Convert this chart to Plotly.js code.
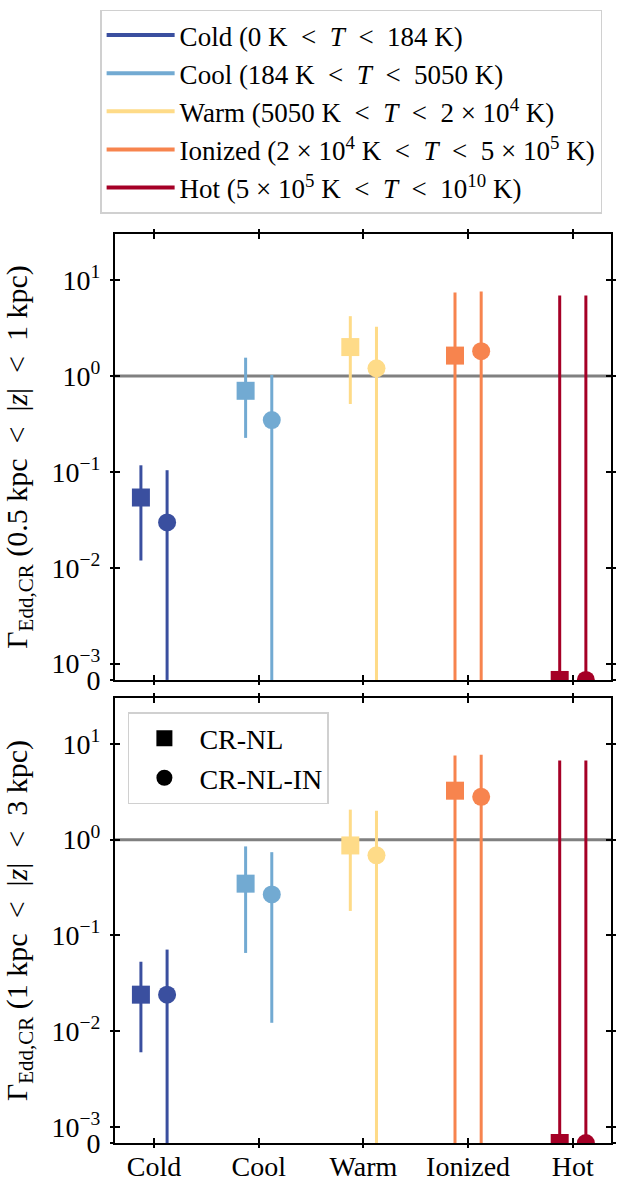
<!DOCTYPE html>
<html>
<head>
<meta charset="utf-8">
<script src="https://cdn.plot.ly/plotly-3.0.1.min.js"></script>
<style>html,body{margin:0;padding:0;background:#fff;}#chart{width:621px;height:1183px;}</style>
</head>
<body>
<div id="chart"></div>
<script>
// ---------------- data ----------------
const categories = ['Cold', 'Cool', 'Warm', 'Ionized', 'Hot'];
const phaseLabels = [
  'Cold (0 K\u2002&lt;\u2002<i>T</i>\u2002&lt;\u2002184 K)',
  'Cool (184 K\u2002&lt;\u2002<i>T</i>\u2002&lt;\u20025050 K)',
  'Warm (5050 K\u2002&lt;\u2002<i>T</i>\u2002&lt;\u20022 × 10<sup>4</sup> K)',
  'Ionized (2 × 10<sup>4</sup> K\u2002&lt;\u2002<i>T</i>\u2002&lt;\u20025 × 10<sup>5</sup> K)',
  'Hot (5 × 10<sup>5</sup> K\u2002&lt;\u2002<i>T</i>\u2002&lt;\u200210<sup>10</sup> K)'
];
const phaseColors = ['#3a4f9f', '#72aad2', '#fedb88', '#f7844e', '#a50026'];
const simNames = ['CR-NL', 'CR-NL-IN'];
const simSymbols = ['square', 'circle'];

// panel 1 : 0.5 kpc < |z| < 1 kpc
const nlMidTop = [0.054, 0.70, 2.0, 1.63, 0];
const nlLoTop  = [0.0119, 0.226, 0.51, 0, 0];
const nlHiTop  = [0.117, 1.55, 4.2, 7.4, 6.9];
const inMidTop = [0.0297, 0.347, 1.2, 1.81, 0];
const inLoTop  = [0, 0, 0, 0, 0];
const inHiTop  = [0.104, 1.02, 3.25, 7.6, 6.9];

// panel 2 : 1 kpc < |z| < 3 kpc
const nlMidBot = [0.024, 0.347, 0.87, 3.25, 0];
const nlLoBot  = [0.006, 0.0655, 0.18, 0, 0];
const nlHiBot  = [0.053, 0.85, 2.06, 7.6, 6.7];
const inMidBot = [0.024, 0.268, 0.686, 2.8, 0];
const inLoBot  = [0, 0.0122, 0, 0, 0];
const inHiBot  = [0.071, 0.74, 2.0, 7.7, 6.7];

const refLevel = 1;
const yTickVals = [0, 0.001, 0.01, 0.1, 1, 10];
const yTickText = ['0', '10<sup>−3</sup>', '10<sup>−2</sup>', '10<sup>−1</sup>', '10<sup>0</sup>', '10<sup>1</sup>'];
const yTitles = [
  'Γ<sub>Edd,CR</sub> (0.5 kpc\u2002&lt;\u2002|<i>z</i>|\u2002&lt;\u20021 kpc)',
  'Γ<sub>Edd,CR</sub> (1 kpc\u2002&lt;\u2002|<i>z</i>|\u2002&lt;\u20023 kpc)'
];

// ---------------- drawing ----------------
const FONT = 'Liberation Serif, Times New Roman, serif';
const FS = 28;
// symlog-like axis: the linear piece 0..1e-3 is compressed; "0" sits at the axis floor
const Y_FLOOR = Math.pow(10, -3.17);
const Y_TOP = Math.pow(10, 1.48);
const toPlot = v => (v > 0 ? v : Y_FLOOR);
const dodge = [-0.125, 0.125];

const panels = [
  {xa: 'x', ya: 'y', mid: [nlMidTop, inMidTop], lo: [nlLoTop, inLoTop], hi: [nlHiTop, inHiTop]},
  {xa: 'x2', ya: 'y2', mid: [nlMidBot, inMidBot], lo: [nlLoBot, inLoBot], hi: [nlHiBot, inHiBot]}
];

const traces = [];
panels.forEach(p => {
  for (let s = 0; s < 2; s++) {
    categories.forEach((c, i) => {
      const y = toPlot(p.mid[s][i]);
      traces.push({
        x: [i + dodge[s]], y: [y],
        xaxis: p.xa, yaxis: p.ya,
        mode: 'markers', type: 'scatter',
        marker: {symbol: simSymbols[s], size: 18, color: phaseColors[i], line: {width: 0}},
        error_y: {type: 'data', symmetric: false,
          array: [toPlot(p.hi[s][i]) - y], arrayminus: [y - toPlot(p.lo[s][i])],
          color: phaseColors[i], thickness: 3, width: 0},
        showlegend: false, hoverinfo: 'skip', cliponaxis: true
      });
    });
  }
});

// legend-only entries
categories.forEach((c, i) => {
  traces.push({x: [null], y: [null], mode: 'lines', type: 'scatter',
    line: {color: phaseColors[i], width: 4}, name: phaseLabels[i],
    legend: 'legend', legendgroup: 'ph' + i, showlegend: true, hoverinfo: 'skip'});
});
simNames.forEach((n, s) => {
  traces.push({x: [null], y: [null], mode: 'markers', type: 'scatter',
    marker: {symbol: simSymbols[s], size: 18, color: 'black'}, name: n,
    legend: 'legend2', showlegend: true, hoverinfo: 'skip'});
});
// carriers for the outward half of the in-out ticks
traces.push({x: [], y: [], xaxis: 'x3', yaxis: 'y3', type: 'scatter', mode: 'markers', showlegend: false, hoverinfo: 'skip'});
traces.push({x: [], y: [], xaxis: 'x4', yaxis: 'y4', type: 'scatter', mode: 'markers', showlegend: false, hoverinfo: 'skip'});

const xRange = [-0.3725, 4.365];
const yRange = [Math.log10(Y_FLOOR), Math.log10(Y_TOP)];
const yTV = yTickVals.map(toPlot);

function xAxis(showLabels, anchor) {
  return {range: xRange, anchor: anchor, tickmode: 'array', tickvals: categories.map((c, i) => i),
    ticktext: categories, showticklabels: showLabels, ticks: 'inside', ticklen: 5, tickwidth: 2,
    tickcolor: 'black', showline: true, linecolor: 'black', linewidth: 2, mirror: 'ticks',
    ticklabelstandoff: -3,
    showgrid: false, zeroline: false, tickfont: {family: FONT, size: FS, color: 'black'}};
}
function yAxis(domain, anchor, title) {
  return {type: 'log', domain: domain, anchor: anchor, range: yRange, tickmode: 'array',
    tickvals: yTV, ticktext: yTickText, ticks: 'inside', ticklen: 5, tickwidth: 2, tickcolor: 'black',
    showline: true, linecolor: 'black', linewidth: 2, mirror: 'ticks', showgrid: false, zeroline: false,
    ticklabelstandoff: 7,
    tickfont: {family: FONT, size: FS, color: 'black'},
    title: {text: title, font: {family: FONT, size: 30, color: 'black'}, standoff: 20}};
}
function xOver(over, anchor) {
  return {overlaying: over, anchor: anchor, range: xRange, tickmode: 'array',
    tickvals: categories.map((c, i) => i), showticklabels: false, ticks: 'outside', ticklen: 4,
    tickwidth: 2, tickcolor: 'black', mirror: 'ticks', showline: false, showgrid: false, zeroline: false};
}
function yOver(over, anchor) {
  return {overlaying: over, anchor: anchor, type: 'log', range: yRange, tickmode: 'array',
    tickvals: yTV, showticklabels: false, ticks: 'outside', ticklen: 4, tickwidth: 2, tickcolor: 'black',
    mirror: 'ticks', showline: false, showgrid: false, zeroline: false};
}

const topDom = [0.5094, 1];
const botDom = [0, 0.4895];

const layout = {
  width: 621, height: 1183,
  margin: {l: 115, r: 10, t: 234, b: 40},
  paper_bgcolor: 'white', plot_bgcolor: 'white',
  font: {family: FONT, size: FS, color: 'black'},
  xaxis: xAxis(false, 'y'),
  yaxis: yAxis(topDom, 'x', yTitles[0]),
  xaxis2: xAxis(true, 'y2'),
  yaxis2: yAxis(botDom, 'x2', yTitles[1]),
  xaxis3: xOver('x', 'y3'),
  yaxis3: yOver('y', 'x3'),
  xaxis4: xOver('x2', 'y4'),
  yaxis4: yOver('y2', 'x4'),
  shapes: [
    {type: 'line', xref: 'x domain', yref: 'y', x0: 0, x1: 1, y0: refLevel, y1: refLevel,
      line: {color: '#808080', width: 3}, layer: 'below'},
    {type: 'line', xref: 'x2 domain', yref: 'y2', x0: 0, x1: 1, y0: refLevel, y1: refLevel,
      line: {color: '#808080', width: 3}, layer: 'below'}
  ],
  legend: {x: -0.03, y: 1.0225, xanchor: 'left', yanchor: 'bottom', bgcolor: 'white',
    bordercolor: '#d0d0d0', borderwidth: 1.5, traceorder: 'grouped', tracegroupgap: 0,
    itemwidth: 68, font: {family: FONT, size: 27, color: 'black'}},
  legend2: {x: 0.026, y: 0.474, xanchor: 'left', yanchor: 'top', bgcolor: 'white',
    bordercolor: '#d0d0d0', borderwidth: 1.5, itemwidth: 60,
    font: {family: FONT, size: FS, color: 'black'}},
  showlegend: true
};

Plotly.newPlot('chart', traces, layout, {staticPlot: true, displayModeBar: false});
</script>
</body>
</html>
